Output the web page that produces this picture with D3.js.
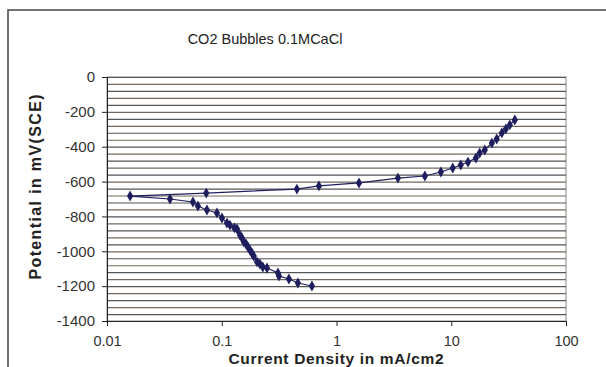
<!DOCTYPE html>
<html>
<head>
<meta charset="utf-8">
<script src="https://cdn.jsdelivr.net/npm/d3@7"></script>
<style>
  html, body { margin: 0; padding: 0; background: #fff; }
  svg { display: block; font-family: Arial, "Liberation Sans", sans-serif; }
</style>
</head>
<body>
<div class="chart-container"></div>
<script>
// current density (mA/cm2) and potential (mV vs SCE), in the order the line joins them
const current = [
  0.611, 0.461, 0.385, 0.315, 0.309, 0.248, 0.228, 0.215, 0.203, 0.190, 0.183, 0.176,
  0.169, 0.163, 0.156, 0.150, 0.144, 0.136, 0.129, 0.118, 0.111, 0.1004, 0.0908,
  0.0743, 0.0620, 0.0561, 0.0354, 0.0159,
  0.0733, 0.452, 0.703, 1.57, 3.43, 5.89, 8.12, 10.3, 12.1, 14.0, 16.4, 17.7, 19.6,
  22.6, 24.9, 27.6, 29.9, 32.4, 35.8
];
const potential = [
  -1199, -1182, -1159, -1142, -1124, -1096, -1090, -1073, -1061, -1027, -1010, -993,
  -975, -958, -947, -924, -906, -872, -866, -850, -838, -809, -780,
  -763, -740, -717, -700, -683,
  -666, -643, -625, -608, -580, -568, -545, -522, -505, -488, -465, -436, -419,
  -379, -356, -321, -298, -275, -247
];
const yTicks = [0, -200, -400, -600, -800, -1000, -1200, -1400];
const xTicks = [0.01, 0.1, 1, 10, 100];
const xTickLabels = ['0.01', '0.1', '1', '10', '100'];

const W = 606, H = 367;
const plot = { left: 107, right: 566, top: 77, bottom: 321 };

const svg = d3.select('.chart-container')
  .append('svg')
  .attr('width', W)
  .attr('height', H);

// chart frame (only top and left edges show in the picture)
svg.append('rect')
  .attr('x', 8).attr('y', 10)
  .attr('width', W).attr('height', H)
  .attr('fill', '#fff')
  .attr('stroke', '#444')
  .attr('stroke-width', 1.5);

svg.append('text')
  .attr('x', 265).attr('y', 44)
  .attr('text-anchor', 'middle')
  .style('font-size', '14.5px')
  .style('fill', '#222')
  .text('CO2 Bubbles 0.1MCaCl');

const x = d3.scaleLog()
  .domain([0.01, 100])
  .range([plot.left, plot.right]);

const y = d3.scaleLinear()
  .domain([-1400, 0])
  .range([plot.bottom, plot.top]);

// plot area
svg.append('rect')
  .attr('x', plot.left).attr('y', plot.top)
  .attr('width', plot.right - plot.left)
  .attr('height', plot.bottom - plot.top)
  .attr('fill', '#fff')
  .attr('stroke', '#888');

// gridlines every 40 mV
svg.append('g')
  .attr('transform', `translate(${plot.left},0)`)
  .call(d3.axisLeft(y)
    .tickValues(d3.range(0, -1401, -40))
    .tickSize(-(plot.right - plot.left))
    .tickFormat(() => ''))
  .call(g => g.select('.domain').remove())
  .selectAll('line')
  .style('stroke', (d, i) => i % 2 ? '#74685e' : '#555')
  .style('stroke-width', 1.2);

// y axis
svg.append('g')
  .attr('transform', `translate(${plot.left},0)`)
  .call(d3.axisLeft(y).tickValues(yTicks).tickSize(5).tickPadding(7))
  .call(g => g.select('.domain').style('stroke', '#222'))
  .call(g => g.selectAll('line').style('stroke', '#222'))
  .selectAll('text')
  .style('font-size', '15px')
  .style('fill', '#333')
  .text(d => d);

// x axis
svg.append('g')
  .attr('transform', `translate(0,${plot.bottom})`)
  .call(d3.axisBottom(x).tickValues(xTicks).tickSize(5).tickPadding(10)
    .tickFormat((d, i) => xTickLabels[i]))
  .call(g => g.select('.domain').style('stroke', '#222'))
  .call(g => g.selectAll('line').style('stroke', '#222'))
  .selectAll('text')
  .style('font-size', '14.5px')
  .style('fill', '#333');

// axis titles
svg.append('text')
  .attr('x', 336).attr('y', 364)
  .attr('text-anchor', 'middle')
  .attr('textLength', 215)
  .attr('lengthAdjust', 'spacing')
  .style('font-size', '15.5px')
  .style('font-weight', '700')
  .style('fill', '#222')
  .text('Current Density in mA/cm2');

svg.append('text')
  .attr('transform', 'translate(41,187) rotate(-90)')
  .attr('text-anchor', 'middle')
  .attr('textLength', 185)
  .attr('lengthAdjust', 'spacing')
  .style('font-size', '16px')
  .style('font-weight', '700')
  .style('fill', '#222')
  .text('Potential in mV(SCE)');

const pts = current.map((c, i) => ({ c, v: potential[i] }));

const line = d3.line()
  .x(d => x(d.c))
  .y(d => y(d.v));

svg.append('path')
  .datum(pts)
  .attr('fill', 'none')
  .attr('stroke', '#1e1e5e')
  .attr('stroke-width', 1.2)
  .attr('d', line);

svg.selectAll('.dot')
  .data(pts)
  .enter()
  .append('path')
  .attr('class', 'dot')
  .attr('transform', d => `translate(${x(d.c)},${y(d.v)})`)
  .attr('d', d3.symbol().type(d3.symbolDiamond).size(34))
  .attr('fill', '#1e1e5e');
</script>
</body>
</html>
